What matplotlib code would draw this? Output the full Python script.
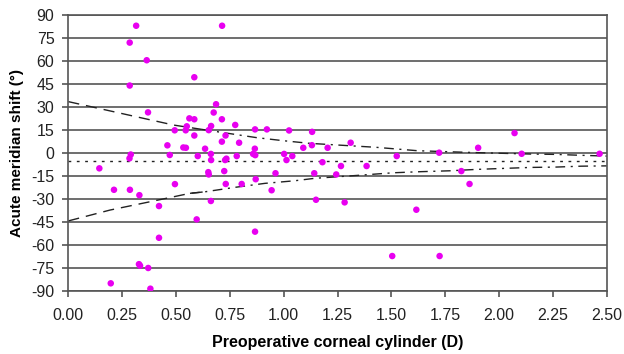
"""
Acute meridian shift vs preoperative corneal cylinder.
"""

import numpy as np
import matplotlib.pyplot as plt

# scatter points (cylinder in D, shift in degrees)
cyl = [0.144, 0.197, 0.212, 0.285, 0.285, 0.29, 0.284, 0.286, 0.315, 0.328,
       0.333, 0.33, 0.364, 0.37, 0.371, 0.381, 0.421, 0.421, 0.46, 0.471,
       0.494, 0.495, 0.534, 0.546, 0.545, 0.55, 0.562, 0.585, 0.585, 0.585,
       0.601, 0.596, 0.635, 0.652, 0.663, 0.662, 0.663, 0.65, 0.652, 0.662,
       0.675, 0.686, 0.713, 0.714, 0.713, 0.73, 0.728, 0.734, 0.724, 0.731,
       0.775, 0.793, 0.782, 0.805, 0.858, 0.868, 0.866, 0.867, 0.87, 0.867,
       0.922, 0.944, 0.962, 1.002, 1.013, 1.04, 1.025, 1.091, 1.131, 1.132,
       1.142, 1.15, 1.18, 1.204, 1.244, 1.266, 1.283, 1.311, 1.385, 1.504,
       1.525, 1.616, 1.722, 1.724, 1.825, 1.863, 1.903, 2.072, 2.105, 2.467]
shift = [-10, -85, -24, 72, 44, -1, -3.5, -24, 83, -72.5,
         -73.5, -27.5, 60.5, 26.5, -75, -88.5, -34.6, -55.3, 5, -1.3,
         14.8, -20.3, 3.6, 3.4, 14.8, 17.4, 22.6, 22, 49.4, 11.4,
         -2, -43.3, 2.8, 14.9, 17.6, -0.6, -4.6, -12.5, -14, -31.3,
         26.4, 31.8, 22, 83, 7.4, 11.4, -4.6, -3.7, -11.8, -20.2,
         18.3, 6.7, -2, -20.2, -0.6, -1.4, 2.8, 15.4, -17.1, -51.3,
         15.4, -24.3, -13.2, -0.6, -4.6, -2, 14.7, 3.4, 5.1, 13.8,
         -13.2, -30.5, -6, 3.4, -14, -8.5, -32.2, 6.7, -8.5, -67.2,
         -2, -37, 0.2, -67.2, -11.8, -20.2, 3.4, 13, -0.5, -0.5]

mean_shift = -5

# envelope curves
upper_x = [0.0, 0.49, 0.62, 0.875, 1.0, 1.12, 1.43, 1.62, 1.77, 1.88, 2.15, 2.26, 2.38, 2.5]
upper_y = [33.5, 18.2, 15.4, 10.0, 8.0, 6.3, 3.7, 1.5, 0.8, 0.3, -0.7, -0.9, -1.5, -2.0]
lower_x = [0.0, 0.194, 0.379, 0.565, 0.635, 0.774, 0.913, 1.052, 1.145, 1.323, 1.509,
           1.633, 1.772, 1.895, 2.03, 2.15, 2.26, 2.38, 2.5]
lower_y = [-44.3, -37.2, -31.8, -26.3, -25.3, -22.4, -19.8, -18.1, -16.5, -14.8, -12.9,
           -12.2, -11.6, -10.7, -10.0, -9.4, -9.2, -8.6, -8.4]

xticks = [0.0, 0.25, 0.5, 0.75, 1.0, 1.25, 1.5, 1.75, 2.0, 2.25, 2.5]
yticks = list(range(-90, 91, 15))

plt.rcParams['font.family'] = ['Liberation Sans', 'DejaVu Sans']
plt.rcParams['axes.unicode_minus'] = False

fig = plt.figure(figsize=(6.24, 3.54), dpi=100)
ax = fig.add_axes([0.1095, 0.178, 0.8628, 0.7796])

grid_col = '#555555'
for yv in yticks:
    ax.axhline(yv, color=grid_col, lw=1.2, zorder=1)

ax.axhline(mean_shift, color='#222222', lw=1.0, dashes=(2, 4), zorder=2)

ux = np.array(upper_x); uy = np.array(upper_y)
lx = np.array(lower_x); ly = np.array(lower_y)
for xs, ys in [(ux, uy), (lx, ly)]:
    m1 = xs <= 0.75
    m2 = xs >= 0.5
    ax.plot(xs[m1], ys[m1], color='#222222', lw=1.0, dashes=(8, 5), zorder=2)
    ax.plot(xs[m2], ys[m2], color='#222222', lw=1.0, dashes=(7, 4, 1.5, 4), zorder=2)

ax.scatter(cyl, shift, s=22, color='#e800f0', edgecolors='none', zorder=3)

ax.set_xlim(0, 2.5)
ax.set_ylim(-90, 90)
ax.set_xticks(xticks)
ax.set_xticklabels(['%.2f' % v for v in xticks])
ax.set_yticks(yticks)
ax.tick_params(axis='both', labelsize=11.5, color=grid_col, width=1.2,
               length=4, direction='out', labelcolor='#222222')
ax.tick_params(axis='x', pad=8)
ax.tick_params(axis='y', pad=6)

for side in ['left', 'right', 'bottom', 'top']:
    ax.spines[side].set_color(grid_col)
    ax.spines[side].set_linewidth(1.2)

ax.set_xlabel('Preoperative corneal cylinder (D)', fontsize=11.5, fontweight='bold', labelpad=9)
ax.set_ylabel('Acute meridian shift (°)', fontsize=11, fontweight='bold', labelpad=5)

plt.savefig('out.png', dpi=100)
plt.close()
